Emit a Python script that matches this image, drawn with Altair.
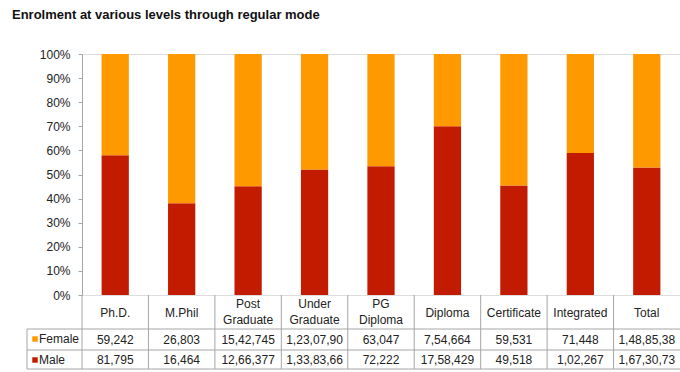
import altair as alt
import pandas as pd

# Enrolment by level and gender (regular mode)
levels = ["Ph.D.", "M.Phil", "Post Graduate", "Under Graduate", "PG Diploma",
          "Diploma", "Certificate", "Integrated", "Total"]
female = [59242, 26803, 1542745, 12307900, 63047, 754664, 59531, 71448, 14885380]
male = [81795, 16464, 1266377, 13383660, 72222, 1758429, 49518, 102267, 16730730]
# table cells as printed (long figures are clipped by the cell width)
female_text = ["59,242", "26,803", "15,42,745", "1,23,07,90", "63,047",
               "7,54,664", "59,531", "71,448", "1,48,85,38"]
male_text = ["81,795", "16,464", "12,66,377", "1,33,83,66", "72,222",
             "17,58,429", "49,518", "1,02,267", "1,67,30,73"]
series = ["Female", "Male"]
colors = ["#FF9900", "#C21B00"]

W, H = 598, 241
FONT = "Liberation Sans"
GRID = "#A6A6A6"
TXT = "#222222"
FS = 12

rows = []
for i, lv in enumerate(levels):
    rows.append({"level": lv, "sex": "Male", "value": male[i], "ord": 0})
    rows.append({"level": lv, "sex": "Female", "value": female[i], "ord": 1})
bars_df = pd.DataFrame(rows)

words = [lv.split(" ") for lv in levels]
table_df = pd.DataFrame({
    "level": levels,
    "two": [len(w) == 2 for w in words],
    "l1": [w[0] for w in words],
    "l2": [w[-1] for w in words],
    "f": female_text,
    "m": male_text,
})

band = alt.Scale(paddingInner=0, paddingOuter=0)
x = alt.X("level:N", sort=levels, axis=None, scale=band)

bars = alt.Chart(bars_df).mark_bar(width=alt.RelativeBandSize(0.41)).encode(
    x=x,
    y=alt.Y("value:Q", stack="normalize",
            scale=alt.Scale(domain=[0, 1]),
            axis=alt.Axis(format="%", values=[i / 10 for i in range(11)],
                          title=None, grid=False, domainColor=GRID,
                          tickColor=GRID, tickSize=4, labelPadding=8,
                          labelFont=FONT, labelFontSize=FS,
                          labelColor=TXT)),
    color=alt.Color("sex:N", scale=alt.Scale(domain=series, range=colors),
                    legend=None),
    order=alt.Order("ord:Q"),
)

base = alt.Chart(table_df)

# vertical cell borders at the left edge of each column, plus legend column
vlines = base.mark_rule(color=GRID, strokeWidth=1).encode(
    x=alt.X("level:N", sort=levels, axis=None, bandPosition=0, scale=band),
    y=alt.value(H), y2=alt.value(H + 74),
)
legend_border = alt.Chart(table_df.head(1)).mark_rule(color=GRID).encode(
    x=alt.value(-55), y=alt.value(H + 34), y2=alt.value(H + 74))

hl_df = pd.DataFrame({"y": [H + 34, H + 55, H + 74]})
hlines = alt.Chart(hl_df).mark_rule(color=GRID).encode(
    x=alt.value(-55), x2=alt.value(W), y=alt.Y("y:Q", scale=None))

txt = dict(font=FONT, fontSize=FS, baseline="middle", color=TXT)
head1 = base.transform_filter("!datum.two").mark_text(**txt).encode(
    x=x, y=alt.value(H + 18), text="l1:N")
head2a = base.transform_filter("datum.two").mark_text(**txt).encode(
    x=x, y=alt.value(H + 9), text="l1:N")
head2b = base.transform_filter("datum.two").mark_text(**txt).encode(
    x=x, y=alt.value(H + 25), text="l2:N")
ftext = base.mark_text(**txt).encode(x=x, y=alt.value(H + 45), text="f:N")
mtext = base.mark_text(**txt).encode(x=x, y=alt.value(H + 65), text="m:N")

leg_df = pd.DataFrame({"sex": series, "yy": [H + 44, H + 65]})
leg_sq = alt.Chart(leg_df).mark_square(size=30, opacity=1).encode(
    x=alt.value(-47), y=alt.Y("yy:Q", scale=None),
    color=alt.Color("sex:N", scale=alt.Scale(domain=series, range=colors),
                    legend=None))
leg_tx = alt.Chart(leg_df).mark_text(align="left", **txt).encode(
    x=alt.value(-43), y=alt.Y("yy:Q", scale=None), text="sex:N")

chart = alt.layer(
    bars, vlines, legend_border, hlines, head1, head2a, head2b,
    ftext, mtext, leg_sq, leg_tx
).properties(
    width=W, height=H,
    title=alt.TitleParams("Enrolment at various levels through regular mode",
                          anchor="start", frame="group", dx=-70, offset=26,
                          font=FONT, fontSize=13, fontWeight="bold",
                          color="#111111"),
    autosize=alt.AutoSizeParams(type="none"),
    padding={"left": 82, "top": 54, "right": 0, "bottom": 77},
).configure_view(stroke=None).configure(background="white")

chart.save("out.html", embed_options={"renderer": "svg", "actions": False})
